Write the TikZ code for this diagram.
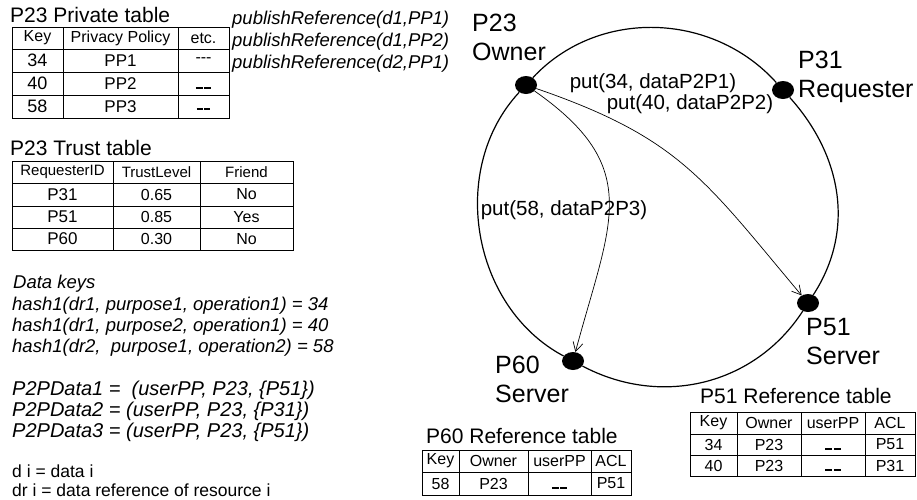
\documentclass[tikz,border=0pt]{standalone}
\usepackage{fontspec}
\setmainfont{Liberation Sans}
\usetikzlibrary{shapes.geometric,arrows.meta}
\newcommand*{\tsize}[1]{\fontsize{#1}{#1}\selectfont}
\newcommand*{\lowdash}{{\vphantom{P}\rule{7pt}{2.2pt}\hspace{1.5pt}\rule{7pt}{2.2pt}}}
\newcommand*{\middash}{{\vphantom{P}\rule[2.5pt]{6pt}{2pt}\hspace{1.5pt}\rule[2.5pt]{6pt}{2pt}}}

\begin{document}
\begin{tikzpicture}[x=1pt,y=1pt]
  \tikzstyle{txt}=[inner sep=0pt, anchor=west]
  \tikzstyle{cell}=[inner sep=0pt, font=\tsize{16}]
  \tikzstyle{peer}=[ellipse, fill=black, minimum width=22pt, minimum height=18pt, inner sep=0pt]
  \tikzstyle{peername}=[inner sep=0pt, anchor=west, align=left, font=\fontsize{25}{29}\selectfont]
  \tikzstyle{putlabel}=[inner sep=0pt, font=\tsize{20.5}]
  \tikzstyle{ringline}=[line width=1.2pt]
  \tikzstyle{putarrow}=[line width=0.7pt, -{Straight Barb[length=9pt,width=10pt]}]
  \useasboundingbox (0,0) rectangle (917,-499);

  % private table of the owner
  \node[txt, font=\tsize{21}] (privtitle) at (10,-15) {P23 Private table};
  \draw[thick] (12,-27) rectangle (229,-118);
  \draw
    (63,-27) -- (63,-118)
    (178,-27) -- (178,-118)
    (12,-49) -- (229,-49)
    (12,-72) -- (229,-72)
    (12,-95) -- (229,-95);
  \node[cell] (priv-0-1) at (37.5,-38) {Key};
  \node[cell] (priv-0-2) at (120.5,-38) {Privacy Policy};
  \node[cell] (priv-0-3) at (203.5,-38) {etc.};
  \foreach \y/\k/\pp/\e [count=\r] in {60.5/34/PP1/{-{}-{}-}, 83.5/40/PP2/\lowdash, 106.5/58/PP3/\middash}
  {
    \node[cell, font=\tsize{18}] (priv-\r-1) at (37.5,-\y) {\k};
    \node[cell, font=\tsize{17}] (priv-\r-2) at (120.5,-\y) {\pp};
    \node[cell] (priv-\r-3) at (203.5,-\y) {\e};
  }

  \foreach \y/\dd [count=\i] in {20/{d1,PP1}, 42/{d1,PP2}, 64/{d2,PP1}}
  {
    \node[txt, font=\itshape\tsize{18.5}] (pub\i) at (232,-\y) {publishReference(\dd)};
  }

  % trust table
  \node[txt, font=\tsize{21}] (trusttitle) at (10,-148) {P23 Trust table};
  \draw[thick] (12,-161) rectangle (293,-250);
  \draw
    (113,-161) -- (113,-250)
    (200,-161) -- (200,-250)
    (12,-183) -- (293,-183)
    (12,-206) -- (293,-206)
    (12,-228) -- (293,-228);
  \node[cell, font=\tsize{15}] (trust-0-1) at (62.5,-172) {RequesterID};
  \node[cell, font=\tsize{15}] (trust-0-2) at (156.5,-172) {TrustLevel};
  \node[cell, font=\tsize{15}] (trust-0-3) at (246.5,-172) {Friend};
  \foreach \y/\id/\lvl/\fr [count=\r] in {194.5/P31/0.65/No, 217/P51/0.85/Yes, 239/P60/0.30/No}
  {
    \node[cell, font=\tsize{17}] (trust-\r-1) at (62.5,-\y) {\id};
    \node[cell] (trust-\r-2) at (156.5,-\y) {\lvl};
    \node[cell] (trust-\r-3) at (246.5,-\y) {\fr};
  }

  % keys and data
  \node[txt, font=\itshape\tsize{18.5}] (keystitle) at (13,-284) {Data keys};
  \foreach \y/\hh [count=\i] in {306/{hash1(dr1, purpose1, operation1) = 34}, 327/{hash1(dr1, purpose2, operation1) = 40}, 348/{hash1(dr2,\ \ purpose1, operation2) = 58}}
  {
    \node[txt, font=\itshape\tsize{18.5}] (hash\i) at (12,-\y) {\hh};
  }
  \node[txt, font=\itshape\tsize{20}] (data1) at (12,-390) {P2PData1 = \ (userPP, P23, \{P51\})};
  \node[txt, font=\itshape\tsize{20}] (data2) at (12,-411) {P2PData2 = (userPP, P23, \{P31\})};
  \node[txt, font=\itshape\tsize{20}] (data3) at (12,-432) {P2PData3 = (userPP, P23, \{P51\})};
  \node[txt, font=\tsize{17.5}] (legend1) at (12,-471) {d i = data i};
  \node[txt, font=\tsize{17.5}] (legend2) at (12,-490) {dr i = data reference of resource i};

  % ring of peers
  \node[peer] (p23) at (526,-85) {};
  \node[peer] (p31) at (783,-90) {};
  \node[peer] (p51) at (808,-303) {};
  \node[peer] (p60) at (573,-361) {};
  \draw[ringline]
    (p23) to[out=47, in=132] (p31)
    to[out=-48, in=57] (p51)
    to[out=-123, in=-28] (p60)
    to[out=152, in=-133] (p23);

  \node[peername] (n23) at (472,-37) {P23\\Owner};
  \node[peername] (n31) at (798,-77) {P31\\Requester};
  \node[peername] (n51) at (806,-342) {P51\\Server};
  \node[peername] (n60) at (495,-379) {P60\\Server};

  \draw[putarrow] (p23) to[out=-35, in=75, looseness=1.3] (p60);
  \draw[putarrow] (p23) to[out=-19, in=130, looseness=1.15] (p51);
  \node[putlabel] (put34) at (653,-83) {put(34, dataP2P1)};
  \node[putlabel] (put40) at (690,-104) {put(40, dataP2P2)};
  \node[putlabel] (put58) at (564,-210) {put(58, dataP2P3)};

  % reference tables
  \node[txt, font=\tsize{21}] (ref51title) at (700,-396) {P51 Reference table};
  \draw[thick] (690,-412) rectangle (915,-476);
  \draw
    (737,-412) -- (737,-476)
    (801,-412) -- (801,-476)
    (865,-412) -- (865,-476)
    (690,-434) -- (915,-434)
    (690,-455) -- (915,-455);
  \foreach \y/\k/\o/\u/\a [count=\r] in {423/Key/Owner/userPP/ACL, 444.5/34/P23/\lowdash/P51, 465.5/40/P23/\lowdash/P31}
  {
    \node[cell] (ref51-\r-1) at (713.5,-\y) {\k};
    \node[cell] (ref51-\r-2) at (769,-\y) {\o};
    \node[cell] (ref51-\r-3) at (833,-\y) {\u};
    \node[cell] (ref51-\r-4) at (890,-\y) {\a};
  }

  \node[txt, font=\tsize{21}] (ref60title) at (426,-436) {P60 Reference table};
  \draw[thick] (422,-450) rectangle (631,-495);
  \draw
    (459,-450) -- (459,-495)
    (528,-450) -- (528,-495)
    (591,-450) -- (591,-495)
    (422,-472) -- (631,-472);
  \foreach \y/\k/\o/\u/\a [count=\r] in {461/Key/Owner/userPP/ACL, 483.5/58/P23/\lowdash/P51}
  {
    \node[cell] (ref60-\r-1) at (440.5,-\y) {\k};
    \node[cell] (ref60-\r-2) at (493.5,-\y) {\o};
    \node[cell] (ref60-\r-3) at (559.5,-\y) {\u};
    \node[cell] (ref60-\r-4) at (611,-\y) {\a};
  }
\end{tikzpicture}
\end{document}
